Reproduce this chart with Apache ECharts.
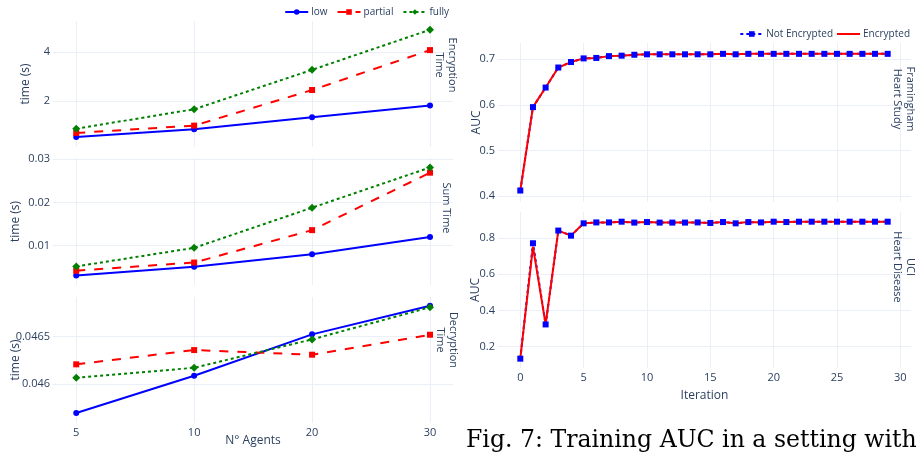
<!DOCTYPE html>
<html>
<head>
<meta charset="utf-8">
<script src="https://cdn.jsdelivr.net/npm/echarts@6/dist/echarts.min.js"></script>
<style>
    html, body { margin: 0; padding: 0; background: #fff; }
    #chart { width: 919px; height: 452px; }
</style>
</head>
<body>
<div id="chart"></div>
<script>
// left panel: timings per number of agents
const agents = ["5", "10", "20", "30"];
const encLow = [1.20, 1.34, 1.59, 1.88];
const encPartial = [1.27, 1.41, 2.34, 4.13];
const encFully = [1.35, 1.78, 3.12, 5.52];
const sumLow = [0.0031, 0.0051, 0.0080, 0.0120];
const sumPartial = [0.0042, 0.0061, 0.0136, 0.0269];
const sumFully = [0.0052, 0.0095, 0.0188, 0.0281];
const decLow = [0.045693, 0.046088, 0.046525, 0.046828];
const decPartial = [0.046208, 0.046359, 0.046310, 0.046521];
const decFully = [0.046067, 0.046172, 0.046472, 0.046811];
const encTicks = [2, 4];
const sumTicks = [0.01, 0.02, 0.03];
const decTicks = [0.046, 0.0465];

// right panel: training AUC per iteration
const iterations = [0, 1, 2, 3, 4, 5, 6, 7, 8, 9, 10, 11, 12, 13, 14, 15, 16, 17, 18, 19, 20, 21, 22, 23, 24, 25, 26, 27, 28, 29];
const fhsPlain = [0.412, 0.595, 0.638, 0.682, 0.694, 0.702, 0.703, 0.707, 0.708, 0.710, 0.711, 0.711, 0.711, 0.711, 0.711,
    0.711, 0.712, 0.711, 0.712, 0.712, 0.712, 0.712, 0.712, 0.712, 0.712, 0.712, 0.712, 0.712, 0.712, 0.712];
const fhsEnc = [0.412, 0.595, 0.638, 0.682, 0.694, 0.702, 0.703, 0.707, 0.708, 0.710, 0.711, 0.711, 0.711, 0.711, 0.711,
    0.711, 0.712, 0.711, 0.712, 0.712, 0.712, 0.712, 0.712, 0.712, 0.712, 0.712, 0.712, 0.712, 0.712, 0.712];
const uciPlain = [0.134, 0.771, 0.323, 0.841, 0.813, 0.881, 0.886, 0.886, 0.890, 0.885, 0.888, 0.885, 0.885, 0.885, 0.886,
    0.883, 0.888, 0.881, 0.888, 0.886, 0.890, 0.888, 0.890, 0.890, 0.890, 0.890, 0.890, 0.890, 0.890, 0.890];
const uciEnc = [0.134, 0.752, 0.323, 0.841, 0.813, 0.881, 0.886, 0.886, 0.890, 0.885, 0.888, 0.885, 0.885, 0.885, 0.886,
    0.883, 0.888, 0.881, 0.888, 0.886, 0.890, 0.888, 0.890, 0.890, 0.890, 0.890, 0.890, 0.890, 0.890, 0.890];
const iterTicks = [0, 5, 10, 15, 20, 25, 30];
const fhsTicks = [0.4, 0.5, 0.6, 0.7];
const uciTicks = [0.2, 0.4, 0.6, 0.8];

const font = "'Open Sans', sans-serif";
const textColor = "#2a3f5f";
const gridColor = "#ebf0f8";
const agentIdx = agents.map((a, i) => i);

function pairs(xs, ys) {
    return ys.map((v, i) => [xs[i], v]);
}

function xAxis(gridIndex, min, max, ticks, showLabels, fmt) {
    return {
        type: "value", gridIndex, min, max,
        axisLine: { show: false },
        axisTick: { show: false, customValues: ticks },
        axisLabel: {
            show: showLabels, customValues: ticks, formatter: fmt, margin: 4,
            color: textColor, fontSize: 11, fontFamily: font
        },
        splitLine: { show: true, lineStyle: { color: gridColor, width: 1 } },
        nameLocation: "middle", nameMoveOverlap: false,
        nameTextStyle: { color: textColor, fontSize: 12, fontFamily: font }
    };
}

function yAxis(gridIndex, min, max, ticks, name, nameGap, extra) {
    return Object.assign({
        type: "value", gridIndex, min, max,
        axisLine: { show: false },
        axisTick: { show: false, customValues: ticks },
        axisLabel: {
            customValues: ticks, formatter: v => String(v), margin: 3,
            color: textColor, fontSize: 11, fontFamily: font
        },
        splitLine: { show: true, lineStyle: { color: gridColor, width: 1 } },
        name, nameGap, nameLocation: "middle", nameMoveOverlap: false,
        nameTextStyle: { color: textColor, fontSize: 12, fontFamily: font }
    }, extra || {});
}

const styles = {
    low: { color: "#0000ff", type: "solid", symbol: "circle", size: 6 },
    partial: { color: "#ff0000", type: [9, 9], symbol: "rect", size: 6 },
    fully: { color: "#008000", type: [3, 3], symbol: "diamond", size: 8 }
};

function agentSeries(name, values, idx) {
    let s = styles[name];
    return {
        name, type: "line", xAxisIndex: idx, yAxisIndex: idx,
        data: pairs(agentIdx, values),
        symbol: s.symbol, symbolSize: s.size,
        lineStyle: { color: s.color, width: 2, type: s.type },
        itemStyle: { color: s.color },
        emphasis: { disabled: true }
    };
}

function aucSeries(name, values, idx) {
    let plain = name === "Not Encrypted";
    return {
        name, type: "line", xAxisIndex: idx, yAxisIndex: idx,
        data: pairs(iterations, values),
        symbol: plain ? "rect" : "none", symbolSize: 6,
        lineStyle: { color: plain ? "#0000ff" : "#ff0000", width: 2, type: plain ? [3, 3] : "solid" },
        itemStyle: { color: plain ? "#0000ff" : "#ff0000" },
        emphasis: { disabled: true }
    };
}

function rowTitle(text, x, y) {
    return {
        type: "text", x, y, z: 100, rotation: -Math.PI / 2,
        style: {
            text, align: "center", verticalAlign: "middle", fill: textColor,
            font: "11px 'Open Sans', sans-serif", lineHeight: 13
        }
    };
}

const chart = echarts.init(document.getElementById("chart"));
const agentFmt = v => agents[Math.round(v)];

chart.setOption({
    animation: false,
    backgroundColor: "#fff",
    legend: [{
        data: ["low", "partial", "fully"], right: 465, top: 2,
        itemWidth: 23, itemHeight: 7, itemGap: 9,
        textStyle: { color: textColor, fontSize: 10, fontFamily: font, padding: [0, 0, 0, -2] }
    }, {
        data: ["Not Encrypted", { name: "Encrypted", itemStyle: { opacity: 0 } }], right: 4, top: 24,
        itemWidth: 23, itemHeight: 7, itemGap: 3,
        textStyle: { color: textColor, fontSize: 10, fontFamily: font, padding: [0, 0, 0, -2] }
    }],
    grid: [
        { left: 53, width: 400, top: 21, height: 126 },
        { left: 53, width: 400, top: 158, height: 127 },
        { left: 53, width: 400, top: 297, height: 126 },
        { left: 498, width: 413, top: 43, height: 159 },
        { left: 498, width: 413, top: 212, height: 156 }
    ],
    xAxis: [
        xAxis(0, -0.197, 3.195, agentIdx, false, agentFmt),
        xAxis(1, -0.197, 3.195, agentIdx, false, agentFmt),
        Object.assign(xAxis(2, -0.197, 3.195, agentIdx, true, agentFmt), { name: "N° Agents", nameGap: 12 }),
        xAxis(3, -1.76, 30.84, iterTicks, false),
        Object.assign(xAxis(4, -1.76, 30.84, iterTicks, true), { name: "Iteration", nameGap: 22 })
    ],
    yAxis: [
        yAxis(0, 1.04, 6.25, encTicks, "time (s)", 21, { type: "log", logBase: 2 }),
        yAxis(1, 0.0009, 0.0303, sumTicks, "time (s)", 31),
        yAxis(2, 0.045588, 0.04692, decTicks, "time (s)", 31),
        yAxis(3, 0.3868, 0.7358, fhsTicks, "AUC", 15),
        yAxis(4, 0.0825, 0.9435, uciTicks, "AUC", 16)
    ],
    series: [
        agentSeries("low", encLow, 0),
        agentSeries("partial", encPartial, 0),
        agentSeries("fully", encFully, 0),
        agentSeries("low", sumLow, 1),
        agentSeries("partial", sumPartial, 1),
        agentSeries("fully", sumFully, 1),
        agentSeries("low", decLow, 2),
        agentSeries("partial", decPartial, 2),
        agentSeries("fully", decFully, 2),
        aucSeries("Not Encrypted", fhsPlain, 3),
        aucSeries("Encrypted", fhsEnc, 3),
        aucSeries("Not Encrypted", uciPlain, 4),
        aucSeries("Encrypted", uciEnc, 4)
    ],
    graphic: [
        rowTitle("Encryption\nTime", 446, 65),
        rowTitle("Sum Time", 446, 208),
        rowTitle("Decryption\nTime", 447, 340),
        rowTitle("Framingham\nHeart Study", 904, 99),
        rowTitle("UCI\nHeart Disease", 904, 267),
        {
            type: "text", x: 466, y: 441, z: 100,
            style: {
                text: "Fig. 7: Training AUC in a setting with", align: "left", verticalAlign: "middle",
                fill: "#000", font: "23.6px 'DejaVu Serif', serif"
            }
        }
    ]
});
</script>
</body>
</html>
